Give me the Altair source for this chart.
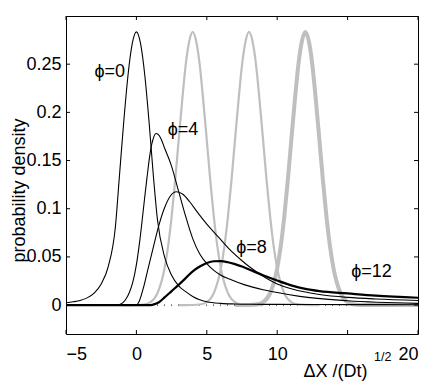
import altair as alt
import pandas as pd

# ---- data ----
# black curves
b0_x = [-5, -4.5, -4, -3.5, -3, -2.5, -2, -1.5, -1.2, -0.9, -0.6, -0.3, 0, 0.3, 0.6, 0.9, 1.2, 1.5, 2, 2.5, 3, 3.5, 4, 4.5, 5, 6, 7, 8, 10, 15, 20]
b0_y = [0.0024, 0.0034, 0.0048, 0.0075, 0.0125, 0.022, 0.040, 0.080, 0.135, 0.190, 0.238, 0.271, 0.2835, 0.271, 0.238, 0.190, 0.135, 0.088, 0.050, 0.031, 0.020, 0.014, 0.009, 0.0055, 0.0035, 0.0018, 0.0012, 0.0009, 0.0007, 0.0005, 0.0004]

b4_x = [-5, -1.5, -1.2, -1, -0.75, -0.5, -0.25, 0, 0.25, 0.5, 0.75, 1, 1.2, 1.41, 1.7, 2, 2.5, 3, 3.5, 4, 4.5, 5, 5.5, 6, 6.6, 7.7, 9, 10, 11.6, 15, 20]
b4_y = [0, 0, 0.0005, 0.002, 0.006, 0.013, 0.024, 0.042, 0.068, 0.100, 0.132, 0.160, 0.173, 0.178, 0.174, 0.163, 0.144, 0.118, 0.092, 0.069, 0.053, 0.043, 0.036, 0.031, 0.027, 0.021, 0.016, 0.013, 0.009, 0.0045, 0.0018]

b8_x = [-5, 0, 0.2, 0.5, 0.8, 1.2, 1.6, 2, 2.4, 2.85, 3.3, 3.8, 4.3, 5, 5.8, 6.6, 7.5, 8, 9, 10, 11, 12, 13, 15, 17, 20]
b8_y = [0, 0, 0.004, 0.018, 0.036, 0.060, 0.083, 0.101, 0.113, 0.1176, 0.115, 0.107, 0.097, 0.084, 0.071, 0.058, 0.046, 0.040, 0.030, 0.022, 0.017, 0.0135, 0.011, 0.008, 0.0063, 0.0048]

b12_x = [-5, 1.0, 1.3, 1.6, 2, 2.5, 3, 3.5, 4, 4.5, 5, 5.5, 6, 6.5, 7, 7.5, 8, 9, 10, 11, 12, 13, 15, 17, 20]
b12_y = [0, 0, 0.001, 0.003, 0.008, 0.0145, 0.021, 0.028, 0.035, 0.040, 0.0437, 0.0455, 0.0456, 0.0445, 0.0425, 0.040, 0.037, 0.031, 0.0255, 0.0205, 0.0168, 0.0145, 0.0121, 0.0098, 0.0076]

# gray curves
g4_x = [-1, 0, 0.5, 1, 1.5, 2, 2.25, 2.5, 2.75, 3, 3.25, 3.5, 3.75, 4, 4.25, 4.5, 4.75, 5, 5.25, 5.5, 5.75, 6, 6.5, 7, 7.5, 8, 9]
g4_y = [0, 0.0001, 0.0006, 0.0031, 0.0124, 0.0382, 0.061, 0.0915, 0.129, 0.171, 0.212, 0.249, 0.2735, 0.2835, 0.2735, 0.249, 0.212, 0.171, 0.129, 0.0915, 0.061, 0.0382, 0.0124, 0.0031, 0.0006, 0.0001, 0]

g8_x = [3, 4, 4.5, 5, 5.5, 6, 6.25, 6.5, 6.75, 7, 7.25, 7.5, 7.75, 8, 8.25, 8.5, 8.75, 9, 9.25, 9.5, 9.75, 10, 10.5, 11, 11.5, 12, 13]
g8_y = [0, 0.0001, 0.0006, 0.0031, 0.0124, 0.0382, 0.061, 0.0915, 0.129, 0.171, 0.212, 0.249, 0.2735, 0.2835, 0.2735, 0.249, 0.212, 0.171, 0.129, 0.0915, 0.061, 0.0382, 0.0124, 0.0031, 0.0006, 0.0001, 0]

g12_x = [7, 8, 8.5, 9, 9.5, 10, 10.25, 10.5, 10.75, 11, 11.25, 11.5, 11.75, 12, 12.25, 12.5, 12.75, 13, 13.25, 13.5, 13.75, 14, 14.5, 15, 15.5, 16, 17, 20]
g12_y = [0, 0.0001, 0.0006, 0.0031, 0.0124, 0.0382, 0.061, 0.0915, 0.129, 0.171, 0.212, 0.249, 0.2735, 0.2835, 0.2735, 0.249, 0.212, 0.171, 0.129, 0.0915, 0.061, 0.0382, 0.0124, 0.0031, 0.0006, 0.0001, 0, 0]

zero_x = [-5, 20]
zero_y = [0, 0]

x_ticks = [-5, 0, 5, 10, 15, 20]
y_ticks = [0, 0.05, 0.1, 0.15, 0.2, 0.25]

label_text = ["\u03d5=0", "\u03d5=4", "\u03d5=8", "\u03d5=12"]
label_x = [-2.98, 2.22, 7.09, 15.26]
label_y = [0.2415, 0.182, 0.0594, 0.0345]

sup_text = ["1/2"]

# ---- styling ----
W, H = 352, 318
FONT = "Liberation Sans"
GRAY = "#bfbfbf"

xs = alt.Scale(domain=[-5, 20], nice=False, zero=False)
ys = alt.Scale(domain=[-0.03, 0.30], nice=False, zero=False)

xaxis = alt.Axis(values=x_ticks, labelExpr="datum.value == 15 ? '' : datum.label",
                 grid=False, ticks=False, tickSize=0, domain=False,
                 labelPadding=11, labelFontSize=18, labelFont=FONT, labelColor="black",
                 title="\u0394X /(Dt)", titleX=237, titleY=42, titleAlign="left",
                 titleBaseline="alphabetic", titleFontSize=18, titleFontWeight="normal",
                 titleFont=FONT, titleColor="black")
yaxis = alt.Axis(values=y_ticks, format=".2~f",
                 grid=False, ticks=False, tickSize=0, domain=False,
                 labelPadding=5, labelFontSize=18, labelFont=FONT, labelColor="black",
                 title="probability density", titleX=-42, titleY=174, titleAngle=270,
                 titleAlign="center", titleBaseline="alphabetic", titleFontSize=18,
                 titleFontWeight="normal", titleFont=FONT, titleColor="black")


def X(f="x"):
    return alt.X(f"{f}:Q", scale=xs, axis=xaxis)


def Y(f="y"):
    return alt.Y(f"{f}:Q", scale=ys, axis=yaxis)


def line(xv, yv, color, width, dash=None):
    kw = dict(color=color, strokeWidth=width, interpolate="monotone")
    if dash is not None:
        kw["strokeDash"] = dash
    df = pd.DataFrame({"x": xv, "y": yv})
    return alt.Chart(df).mark_line(**kw).encode(x=X(), y=Y())


layers = [
    line(zero_x, zero_y, "black", 1, [1, 6]),
    line(g4_x, g4_y, GRAY, 2.2),
    line(g8_x, g8_y, GRAY, 2.2),
    line(g12_x, g12_y, GRAY, 4),
    line(b0_x, b0_y, "black", 1.1),
    line(b4_x, b4_y, "black", 1.1),
    line(b8_x, b8_y, "black", 1.1),
    line(b12_x, b12_y, "black", 2.2),
]

# inward ticks on all four sides
xt = pd.DataFrame({"v": x_ticks})
yt = pd.DataFrame({"v": y_ticks})
layers += [
    alt.Chart(xt).mark_rule(color="black", strokeWidth=1).encode(x=X("v"), y=alt.value(H), y2=alt.value(H - 4)),
    alt.Chart(xt).mark_rule(color="black", strokeWidth=1).encode(x=X("v"), y=alt.value(0), y2=alt.value(4)),
    alt.Chart(yt).mark_rule(color="black", strokeWidth=1).encode(y=Y("v"), x=alt.value(0), x2=alt.value(4)),
    alt.Chart(yt).mark_rule(color="black", strokeWidth=1).encode(y=Y("v"), x=alt.value(W), x2=alt.value(W - 4)),
]

labels = pd.DataFrame({"t": label_text, "x": label_x, "y": label_y})
layers.append(
    alt.Chart(labels).mark_text(align="left", baseline="middle", fontSize=18,
                                font=FONT, color="black")
    .encode(x=X(), y=Y(), text="t:N")
)

sup = pd.DataFrame({"t": sup_text})
layers.append(
    alt.Chart(sup).mark_text(align="left", baseline="alphabetic", fontSize=12.5,
                             font=FONT, color="black")
    .encode(x=alt.value(308), y=alt.value(H + 27), text="t:N")
)

chart = (
    alt.layer(*layers)
    .properties(width=W, height=H,
                padding={"left": 58, "top": 8, "right": 10, "bottom": 48},
                autosize=alt.AutoSizeParams(type="none"),
                background="white")
    .configure_view(stroke="black", strokeWidth=1)
)

chart.save("out.html", embed_options={"renderer": "svg", "actions": False})
